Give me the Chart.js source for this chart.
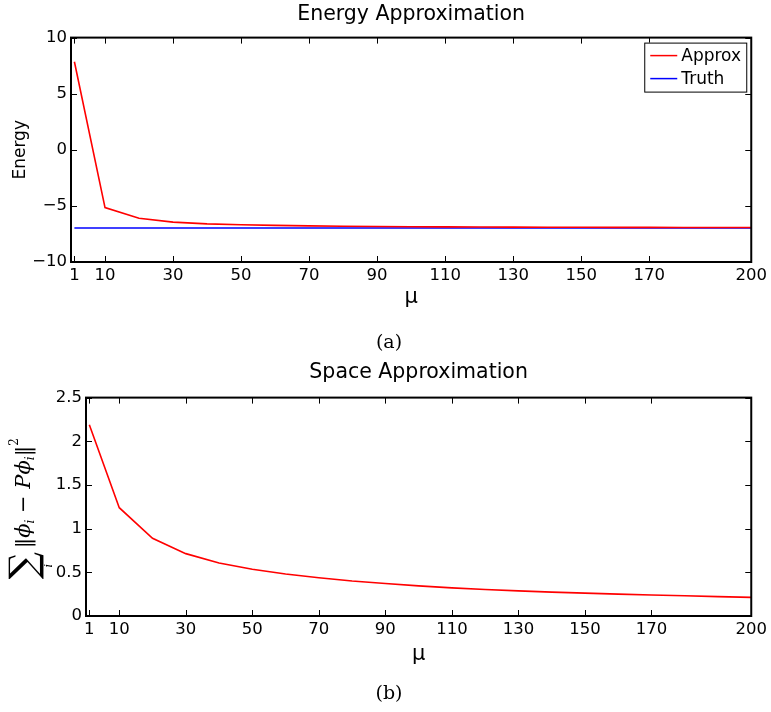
<!DOCTYPE html>
<html>
<head>
<meta charset="utf-8">
<script src="https://cdn.jsdelivr.net/npm/chart.js@4.4.0/dist/chart.umd.min.js"></script>
<style>
body { margin: 0; background: #fff; }
.box { position: absolute; left: 0; width: 771px; }
#top { top: 0; height: 355px; }
#bot { top: 355px; height: 357px; }
.caption { position: absolute; width: 100px; left: 339px; text-align: center;
  font: 19px "DejaVu Serif", serif; color: #000; line-height: 22px; }
</style>
</head>
<body>
<div class="box" id="top"><canvas id="energyChart"></canvas></div>
<div class="box" id="bot"><canvas id="spaceChart"></canvas></div>
<div class="caption" style="top:330px">(a)</div>
<div class="caption" style="top:681px">(b)</div>
<script>
// values
const muValues = [1, 10, 20, 30, 40, 50, 60, 70, 80, 90, 100, 110, 120, 130, 140, 150, 160, 170, 180, 190, 200];
const energyApprox = [7.85, -5.15, -6.1, -6.45, -6.6, -6.68, -6.74, -6.78, -6.81, -6.84, -6.86,
                      -6.87, -6.88, -6.89, -6.9, -6.9, -6.91, -6.91, -6.92, -6.92, -6.92];
const truthMu = [1, 200];
const truthEnergy = [-6.97, -6.97];
const spaceError = [2.19, 1.24, 0.89, 0.714, 0.607, 0.535, 0.48, 0.437, 0.40, 0.372, 0.345,
                    0.322, 0.304, 0.288, 0.273, 0.262, 0.25, 0.24, 0.231, 0.222, 0.213];
const muTicks = [1, 10, 30, 50, 70, 90, 110, 130, 150, 170, 200];
const energyTicks = [-10, -5, 0, 5, 10];
const spaceTicks = [0, 0.5, 1, 1.5, 2, 2.5];

const sans = 'DejaVu Sans', serif = 'DejaVu Serif';
const tickFont = { family: sans, size: 16.5 };

// matlab style box with inward ticks
const boxFrame = {
  id: 'boxFrame',
  afterDatasetsDraw(chart) {
    const { ctx, chartArea: a, scales: { x, y } } = chart;
    ctx.save();
    ctx.strokeStyle = '#000';
    ctx.lineWidth = 1;
    ctx.beginPath();
    x.ticks.forEach(t => {
      const px = Math.round(x.getPixelForValue(t.value)) + 0.5;
      ctx.moveTo(px, a.bottom); ctx.lineTo(px, a.bottom - 6);
      ctx.moveTo(px, a.top); ctx.lineTo(px, a.top + 6);
    });
    y.ticks.forEach(t => {
      const py = Math.round(y.getPixelForValue(t.value)) + 0.5;
      ctx.moveTo(a.left, py); ctx.lineTo(a.left + 6, py);
      ctx.moveTo(a.right, py); ctx.lineTo(a.right - 6, py);
    });
    ctx.stroke();
    ctx.lineWidth = 2;
    ctx.strokeRect(a.left, a.top, a.right - a.left, a.bottom - a.top);
    ctx.restore();
  }
};

const innerLegend = {
  id: 'innerLegend',
  afterDraw(chart) {
    const { ctx, chartArea: a } = chart;
    const left = a.right - 107, top = a.top + 5, w = 102, h = 49;
    ctx.save();
    ctx.fillStyle = '#fff';
    ctx.fillRect(left, top, w, h);
    ctx.strokeStyle = '#000';
    ctx.lineWidth = 1;
    ctx.strokeRect(left + 0.5, top + 0.5, w, h);
    ctx.font = `17px ${sans}`;
    ctx.textBaseline = 'middle';
    chart.data.datasets.forEach((ds, i) => {
      const cy = top + 13 + i * 23;
      ctx.strokeStyle = ds.borderColor;
      ctx.lineWidth = 1.5;
      ctx.beginPath(); ctx.moveTo(left + 6, cy); ctx.lineTo(left + 33, cy); ctx.stroke();
      ctx.fillStyle = '#000';
      ctx.fillText(ds.label, left + 37, cy + 1);
    });
    ctx.restore();
  }
};

// y label of the second panel: sum_i ||phi_i - P phi_i||^2
const sumLabel = {
  id: 'sumLabel',
  afterDraw(chart) {
    const { ctx, chartArea: a } = chart;
    ctx.save();
    ctx.translate(a.left - 64, (a.top + a.bottom) / 2 + 2);
    ctx.rotate(-Math.PI / 2);
    ctx.fillStyle = '#000';
    ctx.textBaseline = 'alphabetic';
    const main = `italic 21px ${serif}`, sub = `italic 12px ${serif}`;
    const parts = [
      { t: '‖', f: `21px ${serif}` },
      { t: 'ϕ', f: main },
      { t: 'i', f: sub, dy: 4 },
      { t: ' − ', f: `21px ${serif}` },
      { t: 'P', f: main },
      { t: 'ϕ', f: main },
      { t: 'i', f: sub, dy: 4 },
      { t: '‖', f: `21px ${serif}` },
      { t: '2', f: `12px ${serif}`, dy: -12 }
    ];
    ctx.font = `38px ${serif}`;
    const sumW = ctx.measureText('∑').width;
    let total = sumW + 4;
    parts.forEach(p => { ctx.font = p.f; p.w = ctx.measureText(p.t).width; total += p.w; });
    const x0 = -total / 2;
    ctx.font = `38px ${serif}`;
    ctx.fillText('∑', x0, 14);
    ctx.font = `italic 11px ${serif}`;
    ctx.textAlign = 'center';
    ctx.fillText('i', x0 + sumW / 2, 30);
    ctx.textAlign = 'left';
    let xx = x0 + sumW + 4;
    parts.forEach(p => {
      ctx.font = p.f;
      ctx.fillText(p.t, xx, 8 + (p.dy || 0));
      xx += p.w;
    });
    ctx.restore();
  }
};

function xScale(height) {
  return {
    type: 'linear', min: 0, max: 200,
    grid: { display: false, drawTicks: false }, border: { display: false },
    afterBuildTicks: s => { s.ticks = muTicks.map(v => ({ value: v })); },
    afterFit: s => { s.height = height; },
    ticks: { autoSkip: false, maxRotation: 0, padding: 4, color: '#000', font: tickFont },
    title: { display: true, text: 'μ', color: '#000', font: { family: sans, size: 21 }, padding: 0 }
  };
}

new Chart(document.getElementById('energyChart'), {
  type: 'line',
  data: {
    datasets: [
      { label: 'Approx', data: muValues.map((m, i) => ({ x: m, y: energyApprox[i] })),
        borderColor: '#ff0000', borderWidth: 1.6, pointRadius: 0 },
      { label: 'Truth', data: truthMu.map((m, i) => ({ x: m, y: truthEnergy[i] })),
        borderColor: '#0000ff', borderWidth: 1.6, pointRadius: 0 }
    ]
  },
  options: {
    responsive: true, maintainAspectRatio: false, animation: false,
    layout: { padding: { top: 2, right: 19, bottom: 45, left: 0 } },
    plugins: {
      legend: { display: false }, tooltip: { enabled: false },
      title: { display: true, fullSize: false, text: 'Energy Approximation', color: '#000',
        font: { family: sans, size: 20.5, weight: 'normal' }, padding: { top: 0, bottom: 11 } }
    },
    scales: {
      x: xScale(48),
      y: {
        min: -10, max: 10,
        grid: { display: false, drawTicks: false }, border: { display: false },
        afterBuildTicks: s => { s.ticks = energyTicks.map(v => ({ value: v })); },
        afterFit: s => { s.width = 71; },
        ticks: { padding: 4, color: '#000', font: tickFont, callback: v => String(v).replace('-', '−') },
        title: { display: true, text: 'Energy', color: '#000', font: { family: sans, size: 17 }, padding: { top: 10, bottom: 0 } }
      }
    }
  },
  plugins: [boxFrame, innerLegend]
});

new Chart(document.getElementById('spaceChart'), {
  type: 'line',
  data: {
    datasets: [
      { label: 'Space', data: muValues.map((m, i) => ({ x: m, y: spaceError[i] })),
        borderColor: '#ff0000', borderWidth: 1.6, pointRadius: 0 }
    ]
  },
  options: {
    responsive: true, maintainAspectRatio: false, animation: false,
    layout: { padding: { top: 5, right: 19, bottom: 45, left: 0 } },
    plugins: {
      legend: { display: false }, tooltip: { enabled: false },
      title: { display: true, fullSize: false, text: 'Space Approximation', color: '#000',
        font: { family: sans, size: 20.5, weight: 'normal' }, padding: { top: 0, bottom: 13 } }
    },
    scales: {
      x: xScale(51),
      y: {
        min: 0, max: 2.5,
        grid: { display: false, drawTicks: false }, border: { display: false },
        afterBuildTicks: s => { s.ticks = spaceTicks.map(v => ({ value: v })); },
        afterFit: s => { s.width = 86; },
        ticks: { padding: 4, color: '#000', font: tickFont, callback: v => String(v) },
        title: { display: false }
      }
    }
  },
  plugins: [boxFrame, sumLabel]
});
</script>
</body>
</html>
